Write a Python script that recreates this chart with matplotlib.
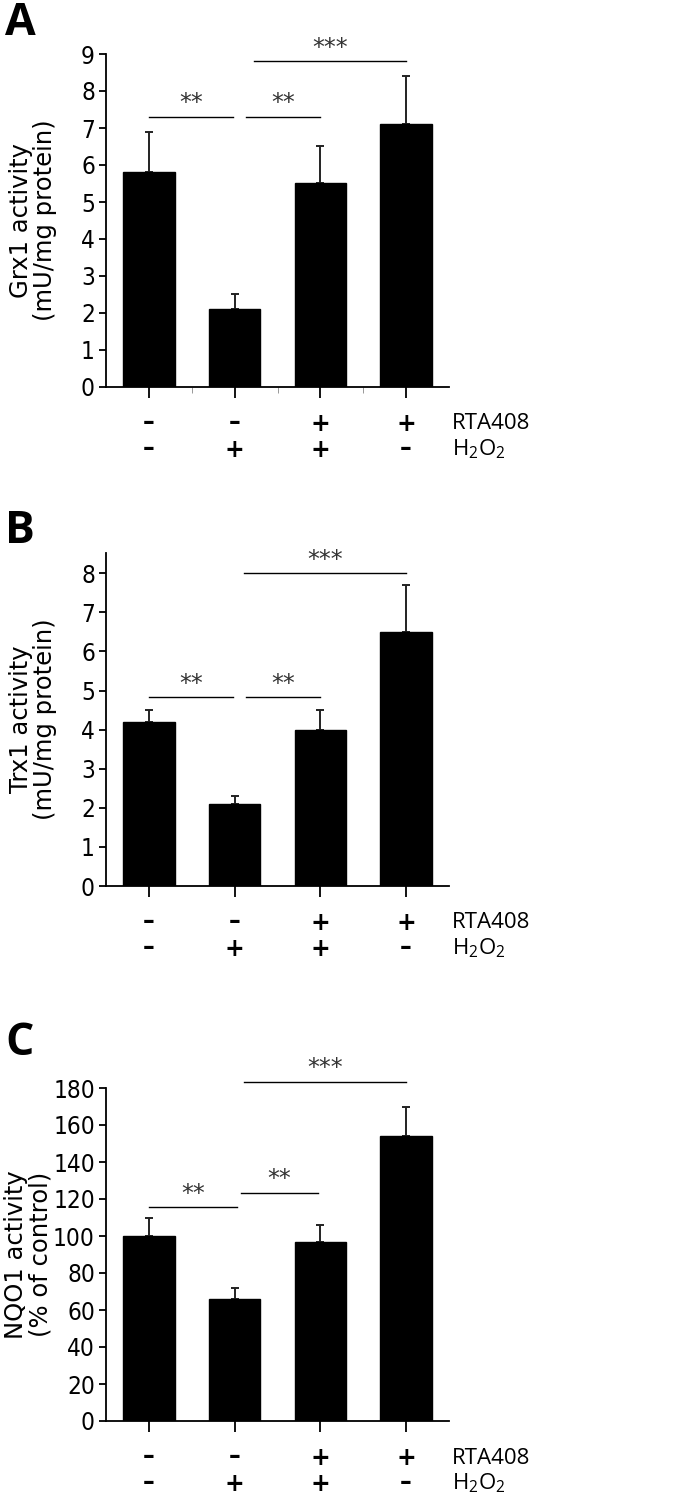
import matplotlib
matplotlib.use("Agg")
import matplotlib.pyplot as plt

plt.rcParams['font.family'] = ['DejaVu Sans']
plt.rcParams['mathtext.default'] = 'regular'

# data
groups = [0, 1, 2, 3]
rta408 = ['-', '-', '+', '+']
h2o2 = ['-', '+', '+', '-']

grx1 = [5.8, 2.1, 5.5, 7.1]
grx1_err = [1.1, 0.4, 1.0, 1.3]

trx1 = [4.2, 2.1, 4.0, 6.5]
trx1_err = [0.3, 0.2, 0.5, 1.2]

nqo1 = [100, 66, 97, 154]
nqo1_err = [10, 6, 9, 16]

# significance brackets: (from, to, height, label)
sig_a = [(0, 0.98, 7.3, '**'), (1.13, 2.0, 7.3, '**'), (1.23, 3.0, 8.8, '***')]
sig_b = [(0, 0.98, 4.83, '**'), (1.13, 2.0, 4.83, '**'), (1.11, 3.0, 8.0, '***')]
sig_c = [(0, 1.03, 115.5, '**'), (1.08, 1.97, 123.5, '**'), (1.11, 3.0, 183.5, '***')]

W, H = 683, 1503
fig = plt.figure(figsize=(W / 100, H / 100), dpi=100)


def sign(ax, i, s, dy):
    # the figure's minus is a short thick bar, en dash comes closer than a hyphen
    if s == '-':
        txt, dy = '\u2013', dy + 2
    else:
        txt = s
    ax.annotate(txt, (i, 0), xycoords=('data', 'axes fraction'),
                xytext=(0, dy), textcoords='offset pixels', ha='center', va='center',
                fontsize=17, fontweight='bold', family='DejaVu Sans', annotation_clip=False)


def panel(letter, top, letter_y, vals, errs, ylim, yticks, ylabel, sigs, labx, minor=False):
    left, right = 106, 449
    bottom = top + 333
    ax = fig.add_axes([left / W, 1 - bottom / H, (right - left) / W, 333 / H])
    ax.bar(groups, vals, width=0.6, color='black', edgecolor='black', zorder=2)
    ax.errorbar(groups, vals, yerr=[[0] * 4, errs], fmt='none', ecolor='#222222',
                elinewidth=1.4, capsize=3, capthick=1.4, zorder=1)
    ax.set_xlim(-0.5, 3.5)
    ax.set_ylim(*ylim)
    ax.set_yticks(yticks)
    ax.set_xticks(groups)
    ax.set_xticklabels([])
    if minor:
        ax.set_xticks([0.5, 1.5, 2.5], minor=True)
        ax.tick_params(axis='x', which='minor', length=4, width=0.6, color='#888888')
    ax.tick_params(axis='x', which='major', length=8, width=1.3, direction='out')
    ax.tick_params(axis='y', length=5, width=1.3, pad=3)
    for t in ax.get_yticklabels():
        t.set_fontsize(17.5)
        t.set_fontstretch('condensed')
    for s in ['top', 'right']:
        ax.spines[s].set_visible(False)
    for s in ['left', 'bottom']:
        ax.spines[s].set_linewidth(1.3)
    ax.set_ylabel(ylabel, family='DejaVu Sans', fontsize=17.5, linespacing=1.0)
    ax.yaxis.set_label_coords(labx, 0.5)

    for x0, x1, h, lab in sigs:
        ax.plot([x0, x1], [h, h], color='black', lw=1.0, clip_on=False)
        ax.text((x0 + x1) / 2, h + ylim[1] * 0.005, lab, ha='center', va='bottom', fontsize=17,
                family='DejaVu Sans', color='#333333', clip_on=False)

    for i in groups:
        sign(ax, i, rta408[i], -37)
        sign(ax, i, h2o2[i], -63)
    ax.annotate('RTA408', (3.53, 0), xycoords=('data', 'axes fraction'),
                xytext=(0, -37), textcoords='offset pixels', ha='left', va='center',
                fontsize=16, family='Open Sans', annotation_clip=False)
    ax.annotate('H$_2$O$_2$', (3.53, 0), xycoords=('data', 'axes fraction'),
                xytext=(0, -62), textcoords='offset pixels', ha='left', va='center',
                fontsize=16, family='Open Sans', annotation_clip=False)

    fig.text(5 / W, 1 - letter_y / H, letter, fontsize=32, fontweight='bold',
             family='Open Sans', ha='left', va='baseline')
    return ax


panel('A', 54, 35, grx1, grx1_err, (0, 9), range(0, 10),
      'Grx1 activity\n(mU/mg protein)', sig_a, -0.143, minor=True)
panel('B', 553, 543, trx1, trx1_err, (0, 8.52), range(0, 9),
      'Trx1 activity\n(mU/mg protein)', sig_b, -0.143)
panel('C', 1088, 1055, nqo1, nqo1_err, (0, 180), range(0, 181, 20),
      'NQO1 activity\n(% of control)', sig_c, -0.157)

fig.savefig('out.png', dpi=100)
